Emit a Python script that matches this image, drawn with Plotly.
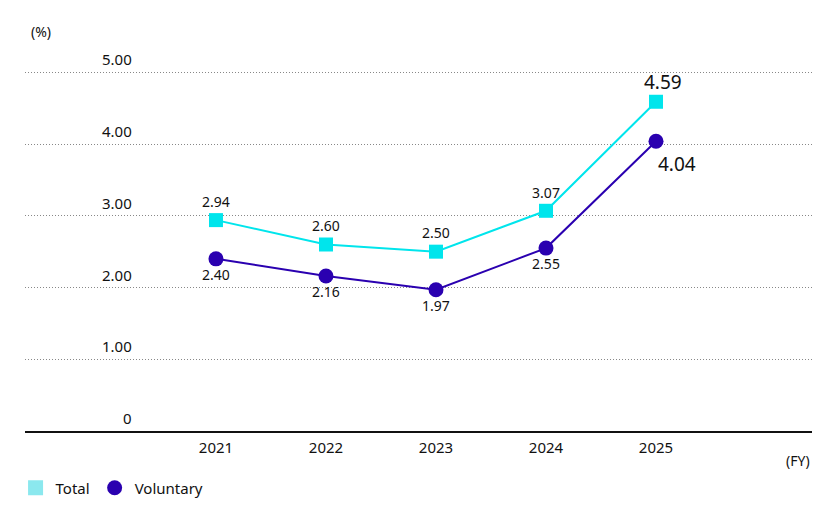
import plotly.graph_objs as go

# Data
years = ['2021', '2022', '2023', '2024', '2025']
total = [2.94, 2.60, 2.50, 3.07, 4.59]
voluntary = [2.40, 2.16, 1.97, 2.55, 4.04]
y_ticks = [0, 1, 2, 3, 4, 5]
y_tick_labels = ['0', '1.00', '2.00', '3.00', '4.00', '5.00']

cyan = '#00E5EC'
violet = '#2A00B0'
font_family = 'Noto Sans, sans-serif'

fig = go.Figure()

# Total line (last label is drawn larger as an annotation)
fig.add_trace(go.Scatter(
    x=years, y=total, mode='lines+markers+text', name='Total', showlegend=False,
    line=dict(color=cyan, width=2),
    marker=dict(symbol='square', size=14, color=cyan),
    text=[f'{v:.2f}' for v in total[:-1]] + [''],
    textposition='top center',
    textfont=dict(size=14, color='#111'),
))

# Voluntary line
fig.add_trace(go.Scatter(
    x=years, y=voluntary, mode='lines+markers+text', name='Voluntary', showlegend=False,
    line=dict(color=violet, width=2),
    marker=dict(symbol='circle', size=15, color=violet),
    text=[f'{v:.2f}' for v in voluntary[:-1]] + [''],
    textposition='bottom center',
    textfont=dict(size=14, color='#111'),
))

# Highlighted latest values (category index of the last year)
last = len(years) - 1
fig.add_annotation(x=last, y=total[-1], text=f'{total[-1]:.2f}', showarrow=False,
                   xshift=7, yshift=20, font=dict(size=19, color='#111'))
fig.add_annotation(x=last, y=voluntary[-1], text=f'{voluntary[-1]:.2f}', showarrow=False,
                   xshift=21, yshift=-23, font=dict(size=19, color='#111'))

# Legend-only entries
fig.add_trace(go.Scatter(x=[None], y=[None], mode='markers', name='Total',
                         marker=dict(symbol='square', size=15, color='#8BE8EE')))
fig.add_trace(go.Scatter(x=[None], y=[None], mode='markers', name='Voluntary',
                         marker=dict(symbol='circle', size=15, color=violet)))

# Y tick labels sit above the gridlines
for v, lab in zip(y_ticks, y_tick_labels):
    fig.add_annotation(x=0.138, xref='paper', y=v, yref='y', text=lab, showarrow=False,
                       xanchor='right', yanchor='bottom', yshift=1,
                       font=dict(size=15, color='#111', family=font_family))

fig.add_annotation(x=0.02, xref='paper', y=1.07, yref='paper', text='(%)', showarrow=False,
                   xanchor='center', yanchor='middle', font=dict(size=14, color='#111', family=font_family))
fig.add_annotation(x=0.982, xref='paper', y=-0.078, yref='paper', text='(FY)', showarrow=False,
                   xanchor='center', yanchor='middle', font=dict(size=14, color='#111', family=font_family))

fig.update_layout(
    width=840, height=509,
    margin=dict(l=17, r=36, t=50, b=86),
    plot_bgcolor='white', paper_bgcolor='white',
    font=dict(family=font_family, size=14, color='#111'),
    legend=dict(orientation='h', xref='container', yref='container', x=0.009, xanchor='left',
                y=0.057, yanchor='middle', font=dict(size=15), itemwidth=30, tracegroupgap=0),
    xaxis=dict(type='category', range=[-1.736, 5.418], showgrid=False, zeroline=False,
               showline=True, linecolor='#111', linewidth=1.5, ticks='', ticklabelstandoff=2,
               tickfont=dict(size=15)),
    yaxis=dict(range=[0, 5.2], tickvals=y_ticks[1:], showticklabels=False, showgrid=True,
               gridcolor='#888', griddash='1px,2px', gridwidth=1, zeroline=False, showline=False),
)

fig.write_html('out.html')
